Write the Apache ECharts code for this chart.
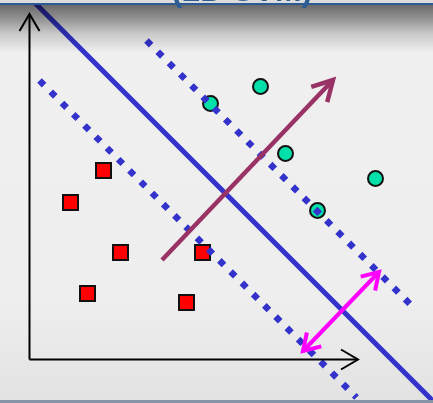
<!DOCTYPE html>
<html>
<head>
<meta charset="utf-8">
<script src="https://cdn.jsdelivr.net/npm/echarts@6/dist/echarts.min.js"></script>
<style>
  html, body { margin: 0; padding: 0; background: #efefef; }
  #chart { width: 433px; height: 403px; }
</style>
</head>
<body>
<div id="chart"></div>
<script>
// 数据：以坐标轴原点为 (0,0)，单位约等于 1px
var squarePoints = [[74, 189], [41, 157], [91, 107], [173, 107], [58, 66], [157, 57]];
var circlePoints = [[181, 256], [231, 273], [256, 206], [346, 181], [288, 149]];
// 分隔线 x + y = c
var hyperLine = [[4, 358], [404, -42]];
var upperMargin = [[117, 319], [386, 50]];
var lowerMargin = [[10, 279], [327, -38]];
// 箭头 [x1, y1, x2, y2, 箭头数]
var axisArrows = [[0, 0, 0, 345.5, 1], [0, 0, 328.5, 0, 1]];
var normalArrow = [[132.5, 99.5, 303.5, 279.5, 1]];
var marginArrow = [[273.5, 8.5, 349.5, 87.5, 2]];
var titleText = '(2D SVM)';

// 画开口箭头
function arrowRenderer(color, width, len, halfw) {
    return function (params, api) {
        var a = api.coord([api.value(0), api.value(1)]);
        var b = api.coord([api.value(2), api.value(3)]);
        var heads = api.value(4);
        var style = { stroke: color, lineWidth: width, fill: null, lineCap: 'butt', lineJoin: 'miter' };
        var children = [{ type: 'line', shape: { x1: a[0], y1: a[1], x2: b[0], y2: b[1] }, style: style }];
        function head(tip, from) {
            var dx = tip[0] - from[0], dy = tip[1] - from[1];
            var l = Math.sqrt(dx * dx + dy * dy);
            dx /= l; dy /= l;
            var bx = tip[0] - dx * len, by = tip[1] - dy * len;
            return {
                type: 'polyline',
                shape: { points: [[bx - dy * halfw, by + dx * halfw], tip, [bx + dy * halfw, by - dx * halfw]] },
                style: style
            };
        }
        children.push(head(b, a));
        if (heads === 2) {
            children.push(head(a, b));
        }
        return { type: 'group', children: children };
    };
}

var chart = echarts.init(document.getElementById('chart'));
chart.setOption({
    animation: false,
    backgroundColor: 'transparent',
    grid: { left: 0, right: 0, top: 0, bottom: 0 },
    xAxis: { type: 'value', min: -29.5, max: 403.5, show: false },
    yAxis: { type: 'value', min: -43.5, max: 359.5, show: false },
    graphic: [
        {
            type: 'rect', z: -10, silent: true,
            shape: { x: 0, y: 0, width: 433, height: 403 },
            style: {
                fill: new echarts.graphic.LinearGradient(0, 0, 0, 1, [
                    { offset: 0, color: '#f0f0f0' },
                    { offset: 0.75, color: '#eeeeee' },
                    { offset: 1, color: '#e2e2e2' }
                ])
            }
        },
        {
            type: 'rect', z: 100, silent: true,
            shape: { x: 0, y: 5, width: 433, height: 48 },
            style: {
                fill: new echarts.graphic.LinearGradient(0, 0, 0, 1, [
                    { offset: 0, color: 'rgba(0,0,0,0.56)' },
                    { offset: 0.3, color: 'rgba(0,0,0,0.38)' },
                    { offset: 0.6, color: 'rgba(0,0,0,0.16)' },
                    { offset: 1, color: 'rgba(0,0,0,0)' }
                ])
            }
        },
        {
            type: 'rect', z: 101, silent: true,
            shape: { x: 0, y: 0, width: 433, height: 3 },
            style: { fill: '#dcdcdc' }
        },
        {
            type: 'rect', z: 101, silent: true,
            shape: { x: 0, y: 3, width: 433, height: 2 },
            style: { fill: '#2b5a95' }
        },
        {
            type: 'rect', z: 101, silent: true,
            shape: { x: 0, y: 400, width: 433, height: 3 },
            style: { fill: '#8794a8' }
        },
        {
            type: 'text', z: 102, silent: true,
            x: 242, y: 8,
            style: {
                text: titleText,
                fill: '#2e5d94',
                font: 'bold 32px "Liberation Sans", Arial, sans-serif',
                align: 'center',
                verticalAlign: 'bottom'
            }
        }
    ],
    series: [
        {
            type: 'scatter', z: 2,
            symbol: 'rect', symbolSize: 15,
            itemStyle: { color: '#ff0000', borderColor: '#111', borderWidth: 2, opacity: 1 },
            data: squarePoints
        },
        {
            type: 'scatter', z: 2,
            symbol: 'circle', symbolSize: 15,
            itemStyle: { color: '#00e0a8', borderColor: '#111', borderWidth: 2, opacity: 1 },
            data: circlePoints
        },
        {
            type: 'line', z: 3, symbol: 'none',
            lineStyle: { color: '#3333cc', width: 5 },
            data: hyperLine
        },
        {
            type: 'line', z: 3, symbol: 'none',
            lineStyle: { color: '#3333cc', width: 6.5, type: [6.5, 9.4], cap: 'butt' },
            data: upperMargin
        },
        {
            type: 'line', z: 3, symbol: 'none',
            lineStyle: { color: '#3333cc', width: 6.5, type: [6.5, 9.4], cap: 'butt' },
            data: lowerMargin
        },
        {
            type: 'custom', z: 4,
            renderItem: arrowRenderer('#000000', 2, 17, 10),
            encode: { x: [0, 2], y: [1, 3] },
            data: axisArrows
        },
        {
            type: 'custom', z: 5,
            renderItem: arrowRenderer('#993366', 4.5, 20, 11),
            encode: { x: [0, 2], y: [1, 3] },
            data: normalArrow
        },
        {
            type: 'custom', z: 5,
            renderItem: arrowRenderer('#ff00ff', 4, 16, 10),
            encode: { x: [0, 2], y: [1, 3] },
            data: marginArrow
        }
    ]
});
</script>
</body>
</html>
